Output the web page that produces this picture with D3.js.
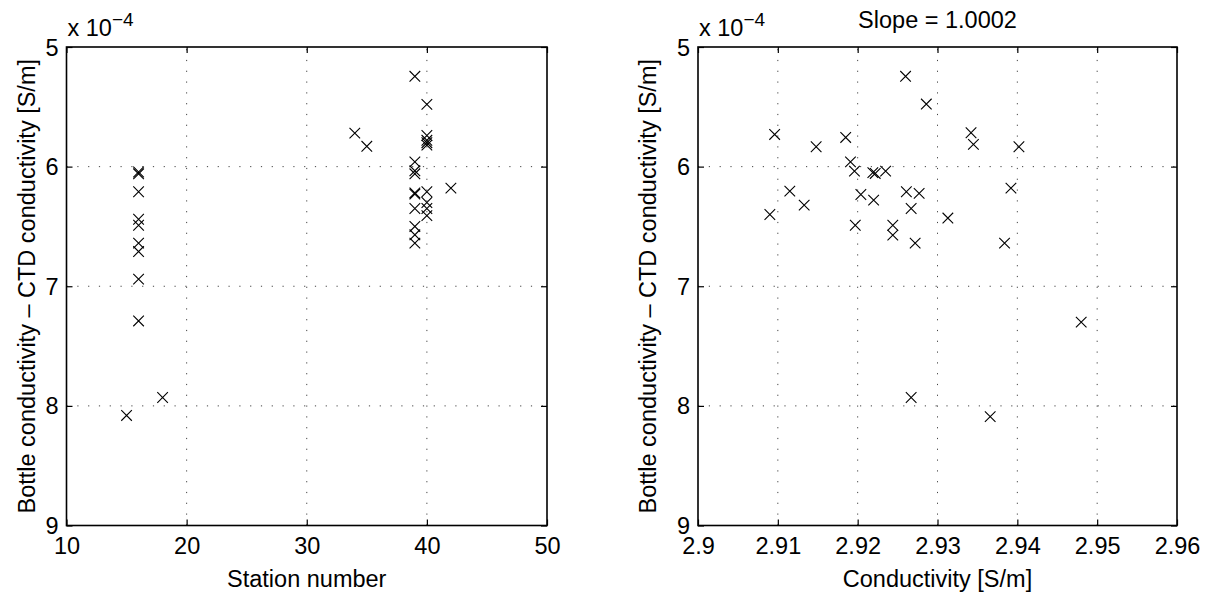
<!DOCTYPE html>
<html>
<head>
<meta charset="utf-8">
<script src="https://cdn.jsdelivr.net/npm/d3@7"></script>
<style>
  html, body { margin: 0; padding: 0; background: #fff; }
  svg { display: block; font-family: "Liberation Sans", Arial, Helvetica, sans-serif; }
</style>
</head>
<body>
<svg id="chart" width="1205" height="595"></svg>
<script>
// ---------- DATA (difference values in units of 1e-4 S/m) ----------
const stationNumber = [15, 16,16,16,16,16,16,16,16,16, 18, 34, 35,
  39,39,39,39,39,39,39,39,39,39, 40,40,40,40,40,40,40,40,40, 42];
const stationDiff = [8.08, 6.045,6.06,6.21,6.44,6.49,6.64,6.71,6.94,7.29, 7.93, 5.72, 5.83,
  5.245,5.96,6.035,6.06,6.22,6.23,6.35,6.50,6.57,6.64,
  5.48,5.74,5.78,5.80,5.82,6.21,6.30,6.35,6.41, 6.18];

const conductivity = [2.9260, 2.9286, 2.9342, 2.9096, 2.9185, 2.9345, 2.9148, 2.9402, 2.9191, 2.9196,
  2.9235, 2.9219, 2.9222, 2.9392, 2.9115, 2.9261, 2.9277, 2.9204, 2.9220, 2.9133,
  2.9267, 2.9090, 2.9313, 2.9197, 2.9244, 2.9244, 2.9272, 2.9384, 2.9480, 2.9267, 2.9366];
const conductivityDiff = [5.245, 5.477, 5.717, 5.731, 5.756, 5.814, 5.834, 5.834, 5.960, 6.038,
  6.038, 6.050, 6.057, 6.180, 6.205, 6.210, 6.224, 6.233, 6.280, 6.322,
  6.350, 6.400, 6.430, 6.490, 6.490, 6.573, 6.640, 6.640, 7.300, 7.930, 8.090];

const yTicks = [5, 6, 7, 8, 9];
const yTickLabels = ["5", "6", "7", "8", "9"];
const xTicksLeft = [10, 20, 30, 40, 50];
const xTickLabelsLeft = ["10", "20", "30", "40", "50"];
const xTicksRight = [2.90, 2.91, 2.92, 2.93, 2.94, 2.95, 2.96];
const xTickLabelsRight = ["2.9", "2.91", "2.92", "2.93", "2.94", "2.95", "2.96"];

const yLabelText = "Bottle conductivity \u2013 CTD conductivity [S/m]";
const xLabelLeft = "Station number";
const xLabelRight = "Conductivity [S/m]";
const titleRight = "Slope = 1.0002";
const exponentText = "\u22124";

// ---------- LAYOUT ----------
const FONT = 23.5;
const plotTop = 47, plotBottom = 525.5;
const panels = [
  { left: 66.5, right: 547, xDomain: [10, 50], xTicks: xTicksLeft, xLabels: xTickLabelsLeft,
    xs: stationNumber, ys: stationDiff, xLabel: xLabelLeft, title: null, yLabelX: 35 },
  { left: 698, right: 1177, xDomain: [2.90, 2.96], xTicks: xTicksRight, xLabels: xTickLabelsRight,
    xs: conductivity, ys: conductivityDiff, xLabel: xLabelRight, title: titleRight, yLabelX: 656 }
];

const svg = d3.select("#chart");
svg.append("rect").attr("width", 1205).attr("height", 595).attr("fill", "#fff");

panels.forEach(p => {
  const x = d3.scaleLinear().domain(p.xDomain).range([p.left, p.right]);
  const y = d3.scaleLinear().domain([5, 9]).range([plotTop, plotBottom]);
  const g = svg.append("g");

  // grid lines (dotted)
  const grid = g.append("g").attr("stroke", "#444").attr("stroke-width", 1)
    .attr("stroke-dasharray", "1.2,9.6").attr("fill", "none");
  p.xTicks.slice(1, -1).forEach(t => {
    grid.append("line").attr("x1", x(t)).attr("x2", x(t)).attr("y1", plotBottom).attr("y2", plotTop);
  });
  yTicks.slice(1, -1).forEach(t => {
    grid.append("line").attr("x1", p.left).attr("x2", p.right).attr("y1", y(t)).attr("y2", y(t));
  });

  const xLabelMap = new Map(p.xTicks.map((t, i) => [t, p.xLabels[i]]));
  const axB = g.append("g").attr("transform", `translate(0,${plotBottom})`)
    .call(d3.axisBottom(x).tickValues(p.xTicks).tickSizeInner(-6).tickSizeOuter(0).tickPadding(12)
      .tickFormat(d => xLabelMap.get(d)));
  const axT = g.append("g").attr("transform", `translate(0,${plotTop})`)
    .call(d3.axisTop(x).tickValues(p.xTicks).tickSizeInner(-6).tickSizeOuter(0).tickFormat(""));
  const yLabelMap = new Map(yTicks.map((t, i) => [t, yTickLabels[i]]));
  const axL = g.append("g").attr("transform", `translate(${p.left},0)`)
    .call(d3.axisLeft(y).tickValues(yTicks).tickSizeInner(-6).tickSizeOuter(0).tickPadding(8)
      .tickFormat(d => yLabelMap.get(d)));
  const axR = g.append("g").attr("transform", `translate(${p.right},0)`)
    .call(d3.axisRight(y).tickValues(yTicks).tickSizeInner(-6).tickSizeOuter(0).tickFormat(""));
  [axB, axT, axL, axR].forEach(a => {
    a.select(".domain").remove();
    a.selectAll(".tick line").attr("stroke", "#000").attr("stroke-width", 1.2);
    a.selectAll("text").attr("font-size", FONT).attr("fill", "#000")
      .attr("font-family", "Liberation Sans, Arial, sans-serif");
  });
  axL.selectAll("text").attr("dy", "0.34em");

  // box
  g.append("rect").attr("x", p.left).attr("y", plotTop)
    .attr("width", p.right - p.left).attr("height", plotBottom - plotTop)
    .attr("fill", "none").attr("stroke", "#000").attr("stroke-width", 1.6);

  // markers (x)
  const s = 5.3;
  const pts = p.xs.map((v, i) => [x(v), y(p.ys[i])]);
  g.append("g").selectAll("path").data(pts).join("path")
    .attr("d", d => `M${d[0]-s},${d[1]-s}L${d[0]+s},${d[1]+s}M${d[0]-s},${d[1]+s}L${d[0]+s},${d[1]-s}`)
    .attr("stroke", "#000").attr("stroke-width", 1.1).attr("fill", "none");

  // exponent label
  const ex = g.append("text").attr("x", p.left + 1).attr("y", 36)
    .attr("font-size", FONT).attr("fill", "#000");
  ex.append("tspan").text("x 10");
  ex.append("tspan").attr("dy", -10).attr("font-size", 19).text(exponentText);

  // x label
  g.append("text").attr("x", (p.left + p.right) / 2).attr("y", 587)
    .attr("text-anchor", "middle").attr("font-size", FONT).attr("fill", "#000").text(p.xLabel);

  // y label
  g.append("text").attr("transform", `translate(${p.yLabelX},${(plotTop + plotBottom) / 2}) rotate(-90)`)
    .attr("text-anchor", "middle").attr("font-size", FONT).attr("fill", "#000").text(yLabelText);

  // title
  if (p.title) {
    g.append("text").attr("x", (p.left + p.right) / 2).attr("y", 28)
      .attr("text-anchor", "middle").attr("font-size", FONT).attr("fill", "#000").text(p.title);
  }
});
</script>
</body>
</html>
